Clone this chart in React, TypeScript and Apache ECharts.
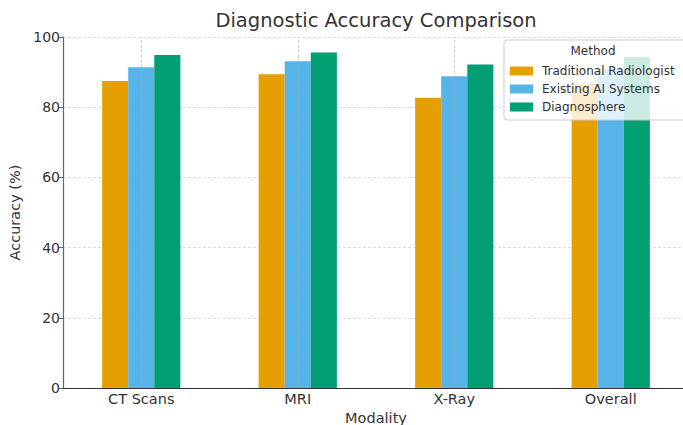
import React, { useEffect, useRef } from "react";
import * as echarts from "echarts";

const categories = ["CT Scans", "MRI", "X-Ray", "Overall"];
const traditional = [87.5, 89.4, 82.7, 86.6];
const existingAI = [91.4, 93.1, 88.8, 91.0];
const diagnosphere = [94.9, 95.6, 92.2, 94.3];
const seriesNames = ["Traditional Radiologist", "Existing AI Systems", "Diagnosphere"];
const colors = ["#E69F00", "#56B4E9", "#009E73"];
const yTicks = { min: 0, max: 100, interval: 20 };

const FONT = "DejaVu Sans";

export default function App() {
  const ref = useRef<HTMLDivElement>(null);
  useEffect(() => {
    if (!ref.current) return;
    const chart = echarts.init(ref.current, null, { renderer: "svg" });
    const data = [traditional, existingAI, diagnosphere];
    const series: any[] = data.map((d, i) => ({
      name: seriesNames[i],
      type: "bar",
      data: d,
      barGap: "0%",
      barCategoryGap: "50%",
      itemStyle: { color: colors[i] },
      z: 2,
    }));
    series.push({
      name: "grid-v",
      type: "line",
      data: [],
      silent: true,
      markLine: {
        silent: true,
        symbol: "none",
        label: { show: false },
        lineStyle: { color: "rgba(170,170,170,0.55)", type: [3, 2], width: 1 },
        data: categories.map((c) => ({ xAxis: c })),
        z: 5,
      },
      z: 5,
    });
    chart.setOption({
      animation: false,
      textStyle: { fontFamily: FONT },
      title: {
        text: "Diagnostic Accuracy Comparison",
        left: 376,
        textAlign: "center",
        top: 10,
        padding: 0,
        textStyle: { fontFamily: FONT, fontSize: 19.5, fontWeight: "normal", color: "#333" },
      },
      grid: { left: 63, top: 37, right: -6, bottom: 37, outerBoundsMode: "none", containLabel: false },
      xAxis: {
        type: "category",
        data: categories,
        name: "Modality",
        nameLocation: "middle",
        nameGap: 18,
        nameTextStyle: { fontFamily: FONT, fontSize: 14.5, color: "#333" },
        axisLine: { lineStyle: { color: "#333", width: 1.2 } },
        axisTick: { show: false },
        axisLabel: { fontFamily: FONT, fontSize: 14.5, color: "#333", margin: 3 },
        splitLine: { show: false },
      },
      yAxis: {
        type: "value",
        min: yTicks.min,
        max: yTicks.max,
        interval: yTicks.interval,
        name: "Accuracy (%)",
        nameLocation: "middle",
        nameGap: 36,
        nameTextStyle: { fontFamily: FONT, fontSize: 14.5, color: "#333" },
        axisLine: { show: true, lineStyle: { color: "#666", width: 1.2 } },
        axisTick: { show: true, length: 4, lineStyle: { color: "#666" } },
        axisLabel: { fontFamily: FONT, fontSize: 14, color: "#333", margin: 3 },
        splitLine: { show: true, lineStyle: { color: "#dcdcdc", type: [3, 2], width: 1 } },
      },
      legend: {
        orient: "vertical",
        left: 510,
        top: 64,
        padding: 0,
        itemWidth: 23,
        itemHeight: 9,
        itemGap: 4,
        icon: "rect",
        data: seriesNames,
        textStyle: { fontFamily: FONT, fontSize: 12, color: "#333", lineHeight: 14, padding: [0, 0, 0, 4] },
        z: 20,
      },
      graphic: [
        {
          type: "rect",
          shape: { x: 504, y: 40, width: 182, height: 80, r: 3 },
          style: { fill: "rgba(255,255,255,0.8)", stroke: "#cccccc", lineWidth: 1 },
          z: 10,
        },
        {
          type: "text",
          x: 593,
          y: 51,
          style: {
            text: "Method",
            fontFamily: FONT,
            fontSize: 12,
            fill: "#333",
            textAlign: "center",
            textVerticalAlign: "middle",
          },
          z: 11,
        },
      ],
      series,
    });
    return () => chart.dispose();
  }, []);
  return (
    <div
      ref={ref}
      style={{ position: "fixed", left: 0, top: 0, width: 683, height: 425, background: "#fff" }}
    />
  );
}
